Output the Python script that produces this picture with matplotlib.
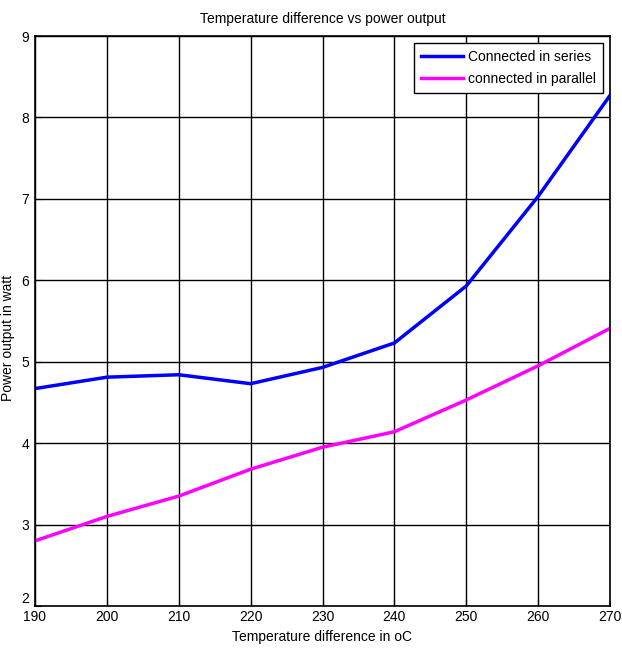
import matplotlib
matplotlib.use("Agg")
import matplotlib.pyplot as plt

temps = [190, 200, 210, 220, 230, 240, 250, 260, 270]
series_power = [4.67, 4.81, 4.84, 4.73, 4.93, 5.23, 5.93, 7.03, 8.27]
parallel_power = [2.80, 3.10, 3.35, 3.68, 3.95, 4.14, 4.53, 4.95, 5.41]
xticks = [190, 200, 210, 220, 230, 240, 250, 260, 270]
yticks = [2, 3, 4, 5, 6, 7, 8, 9]

plt.rcParams['font.family'] = ['Liberation Sans Narrow', 'Liberation Sans', 'DejaVu Sans']

fig = plt.figure(figsize=(6.22, 6.48), dpi=100)
ax = fig.add_axes([35/622, 1-606/648, 575/622, 570/648])

ax.plot(temps, series_power, color='#0000ff', lw=2.5, label='Connected in series')
ax.plot(temps, parallel_power, color='#ff00ff', lw=2.5, label='connected in parallel')

ax.set_xlim(190, 270)
ax.set_ylim(2, 9)
ax.set_xticks(xticks)
ax.set_yticks(yticks)
ax.grid(True, color='black', lw=1, ls='-')
ax.set_axisbelow(True)
for s in ax.spines.values():
    s.set_linewidth(1.2)
ax.tick_params(direction='in', length=4, labelsize=10)
ax.tick_params(axis='x', pad=3)
ax.tick_params(axis='y', pad=4)
for lbl in ax.get_yticklabels():
    lbl.set_verticalalignment('bottom' if lbl.get_text() == '2' else 'center_baseline')

ax.set_title('Temperature difference vs power output', fontsize=10, pad=9)
ax.set_xlabel('Temperature difference in oC', fontsize=10, labelpad=4)
ax.set_ylabel('Power output in watt', fontsize=10, labelpad=3)
ax.yaxis.set_label_coords(-0.035, 0.47)

leg = ax.legend(loc='upper right', fontsize=10, fancybox=False, framealpha=1,
                edgecolor='black', borderaxespad=0.5, handlelength=3.0,
                handletextpad=0.4, borderpad=0.5, labelspacing=0.6)
leg.get_frame().set_linewidth(1.0)

fig.savefig('out.png', dpi=100)
